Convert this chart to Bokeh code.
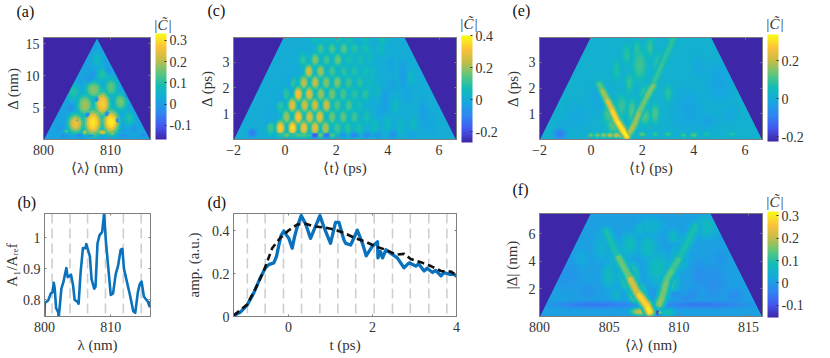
from bokeh.plotting import figure
from bokeh.layouts import row, column
from bokeh.models import (ColorBar, FixedTicker, LinearAxis, LinearColorMapper, Title,
                          Range1d, Span, ColumnDataSource)
from bokeh.embed import file_html
from bokeh.resources import INLINE
import numpy as np

# ---------- values ----------
b_lam = [800.0,800.05,800.55,800.95,801.2,801.4,801.55,801.75,802.05,802.15,802.55,802.85,803.1,803.3,803.5,803.75,804.0,804.3,804.55,804.95,805.15,805.45,805.8,806.2,806.3,806.55,806.85,807.1,807.5,807.7,808.0,808.3,808.7,809.0,809.25,809.6,810.0,810.35,810.75,811.1,811.5,811.75,812.0,812.4,812.9,813.4,813.7,814.1,814.4,814.65,815.0,815.4,815.6,815.85,816.0]
b_amp = [.748,.79,.798,.821,.824,.855,.836,.774,.762,.745,.836,.857,.883,.902,.873,.876,.881,.849,.80,.795,.788,.888,.966,.966,.979,.961,.94,.867,.836,.842,.981,1.007,1.018,1.077,.992,.909,.816,.821,.883,.909,.961,.964,.899,.862,.816,.764,.759,.826,.852,.859,.811,.80,.795,.78,.795]
b_marks = [801.15,803.85,806.5,809.2,811.9,814.6]

d_t = [-1.305,-1.146,-.986,-.827,-.668,-.549,-.469,-.35,-.286,-.23,-.175,-.111,-.048,.008,.088,.143,.207,.302,.406,.525,.605,.748,.843,1.0,1.12,1.2,1.32,1.36,1.48,1.64,1.76,1.85,1.99,2.12,2.13,2.19,2.24,2.32,2.43,2.59,2.75,2.87,3.03,3.1,3.23,3.3,3.43,3.5,3.63,3.7,3.83,3.95,4.0]
d_amp = [.005,.02,.053,.11,.182,.227,.242,.25,.28,.333,.379,.398,.379,.364,.318,.371,.417,.47,.432,.364,.402,.47,.417,.341,.439,.439,.356,.341,.333,.402,.341,.283,.326,.348,.273,.303,.273,.311,.295,.273,.227,.25,.235,.245,.212,.225,.205,.215,.189,.205,.197,.197,.186]
d_fit_t = [-1.305,-.986,-.788,-.589,-.39,-.19,.008,.207,.406,.605,.85,1.1,1.36,1.6,1.84,2.08,2.32,2.56,2.75,2.91,3.19,3.39,3.63,3.87,4.0]
d_fit_amp = [.005,.056,.129,.212,.318,.368,.402,.429,.432,.42,.415,.405,.386,.364,.348,.326,.311,.288,.292,.268,.25,.235,.212,.209,.19]
d_marks = [-.98,-.556,-.12,.31,.746,1.175,1.6,2.04,2.476,2.9,3.34,3.77]

a_x = [807.4,810.1,804.8,808.8,806.2,807.5,811.5,810.1,812.8,804.5,808.8,808.8,806.2,803.4,810.3,807.5,805.3,803.0,807.1,812.0,815.0,806.6,809.5,804.0,812.5,808.0,805.0,811.0,808.0,807.4,809.5,806.8,802.5,813.5]
a_y = [2.65,2.75,2.5,5.6,5.4,7.8,5.9,8.2,3.3,7.4,10.2,1.15,1.15,1.3,.95,1.05,.65,.55,.6,.6,.65,3.9,4.0,5.0,7.0,12.5,3.0,3.0,6.3,10.2,10.8,9.5,1.8,1.8]
a_w = [2.2,2.1,2.0,2.0,2.0,2.2,1.7,1.7,1.4,1.7,1.5,1.2,.7,.6,.6,.5,1.0,.9,.8,.9,.7,.8,.8,.8,.8,1.2,.6,.6,.8,.7,.7,.8,.8,.8]
a_h = [3.5,3.2,2.6,3.3,2.9,2.4,2.4,2.6,2.0,2.4,2.0,.7,.7,.5,.6,.5,.4,.3,.3,.3,.4,1.0,1.0,1.0,1.0,2.0,1.0,1.0,1.0,1.0,1.0,1.2,.8,.8]
a_v = [.31,.32,.25,.28,.19,.17,.16,.14,.10,.10,.10,.24,.21,.15,.19,.18,-.04,-.04,-.03,-.03,-.05,-.02,-.02,-.02,-.02,.07,-.01,-.01,-.01,-.01,-.01,-.01,-.01,-.01]

c_x = [-.56,-.17,.30,.74,1.17,1.58,2.04,2.45,2.88,
       .06,.52,.96,1.36,1.84,2.27,2.71,3.18,
       -.17,.29,.77,1.17,1.62,2.04,2.49,2.88,
       .06,.52,.95,1.40,1.84,2.27,2.71,3.14,
       .31,.74,1.18,1.61,2.04,2.49,2.92,3.33,
       .93,1.39,1.84,2.3,2.71,3.14,
       .71,1.18,1.62,2.06,2.5,2.94,
       1.39,1.84,2.3,2.71,3.14,3.72,
       1.17,1.62,2.06,2.5,3.14,3.79,
       -.17,.06,.30,.52,.74,.96,1.17,1.39,1.62,1.84,2.27,2.71,3.2,3.6,-1.27,4.2,5.0,3.9,4.6,5.4,
       3.5,4.0,4.5,5.0,3.7,4.3,4.8,3.6,4.2,4.9,3.4,4.1,3.3,5.6,-.6,-.2,.2]
c_y = [.45]*9 + [.875]*8 + [1.33]*8 + [1.76]*8 + [2.21]*8 + [2.64]*6 + [3.09]*6 + [3.51]*6 + [3.87]*6 + [.17]*14 + [.25,.2,.2,1.5,2.5,1.0] + [.5,.6,.5,.6,1.1,1.3,1.7,1.9,2.1,2.4,2.6,2.9,3.2,.6,1.0,1.6,2.3]
c_v = [.12,.33,.36,.30,.28,.22,.12,.10,.08,
       .20,.32,.27,.28,.16,.15,.12,.08,
       .10,.28,.25,.25,.25,.13,.13,.07,
       .10,.31,.27,.20,.17,.13,.10,.10,
       .10,.23,.24,.18,.18,.12,.10,.06,
       .25,.20,.12,.10,.09,.07,
       .10,.18,.12,.16,.08,.08,
       .12,.13,.14,.10,.08,.05,
       .06,.06,.08,.08,.06,.07,
       .10,.16,.10,.14,.14,.10,-.18,.15,-.14,.13,-.05,-.10,-.08,-.06,-.12,-.06,-.03,-.04,-.04,-.04,
       .06,.05,.05,.05,-.03,.05,-.03,.05,-.03,.04,.05,-.03,.06,-.02,-.01,-.01,-.01]
c_w = [.3]*(len(c_v)-17) + [.25]*13 + [.5,.5,.4,.4]
c_h = [.5]*9 + [.5]*8 + [.5]*8 + [.5]*8 + [.48]*8 + [.48]*6 + [.46]*6 + [.44]*6 + [.35]*6 + [.2]*14 + [.3,.3,.3,1.0,1.2,.9] + [.5]*13 + [.9,.9,.9,.9]

e_x = [-1.2,.0,.25,.5,.75,1.0,1.2,2.0,2.5,3.0,3.6,4.0,4.5,5.5,.9,.7,1.2,1.6,2.1,2.5,2.1,1.5,1.9,2.6,-.5,.3,3.8,5.0,4.5,-1.0,1.4,2.3,3.0,1.0,1.8,3.3,4.2,5.4]
e_y = [.2,.17,.17,.17,.17,.17,.17,.2,.2,.2,.17,.17,.2,.2,.55,1.0,1.3,1.1,.9,1.0,1.7,2.2,2.9,2.9,.9,1.6,1.2,2.2,.7,.6,3.3,3.6,1.8,2.7,3.5,.8,2.8,1.0]
e_w = [.45,.2,.2,.25,.25,.25,.25,.25,.2,.25,.2,.25,.2,.25,.5,.4,.4,.3,.4,.3,.35,.3,.5,.3,.8,.8,1.0,1.0,.8,.4,.3,.3,.3,.3,.3,.3,.5,.5]
e_h = [.45,.16,.16,.18,.18,.2,.2,.16,.16,.16,.16,.18,.16,.16,.5,.7,.8,.9,.6,.7,.7,.7,1.1,.8,1.0,1.0,1.5,1.5,.6,.5,.7,.7,.6,.7,.7,.5,.9,.7]
e_v = [-.09,.13,.15,.16,.19,.2,.21,.13,.10,.10,.10,.12,.08,.08,.12,.11,.09,.11,.11,.11,.11,.09,.10,.09,-.01,-.01,-.02,-.02,-.02,-.01,.08,.09,.08,.07,.08,-.01,-.01,-.01]
e_arm_x = [[1.4,1.25,1.0,.8,.6,.4,.33],[1.5,1.7,1.9,2.2,2.45],[2.45,2.8,3.2]]
e_arm_y = [[.12,.35,.75,1.2,1.6,2.0,2.15],[.25,.6,1.1,1.7,2.15],[2.2,3.0,3.9]]
e_arm_v = [[.33,.32,.31,.27,.2,.15,.09],[.17,.19,.15,.13,.17],[.10,.08,.09]]

f_x = [807.2,808.6,809.2,808.5,807.8,809.8,802.0,803.5,812.5,814.0,805.0,811.5,808.0,812.0,804.5,806.5,810.5,803.0,805.5,811.0,813.0,808.4,807.2,809.6,806.0,810.2,804.0,811.7,808.4,806.4,805.6,809.2,810.0,807.0]
f_y = [.35,.3,.3,3.5,5.0,1.6,3.0,1.8,2.5,1.5,3.0,3.0,6.5,6.5,5.0,5.2,1.3,4.2,1.6,1.6,4.2,1.6,6.3,5.8,3.0,5.5,.85,.85,.38,2.9,4.4,2.6,4.2,1.7]
f_w = [1.2,.4,.9,1.4,1.2,.7,1.5,1.2,1.5,1.2,.9,1.0,1.5,1.5,1.0,1.0,.7,.8,.8,.8,.8,.6,.7,.7,.9,.7,5.5,6.0,.5,1.2,1.0,1.2,1.0,1.0]
f_h = [.5,.3,.5,2.0,1.6,.4,2.0,1.0,2.5,1.0,1.6,1.8,1.2,1.4,1.6,1.4,.4,.9,.9,.9,.9,.8,.8,.8,1.3,.8,.45,.45,.5,1.6,1.5,1.6,1.4,1.2]
f_v = [.20,.16,.09,.08,.07,-.02,-.01,-.01,-.02,-.02,.07,-.02,.05,.07,.05,.08,-.03,.03,.05,-.02,-.01,-.01,.06,.07,.08,.05,-.05,-.05,-.15,.17,.11,.14,.11,.24]
f_arm_x = [[807.9,807.7,807.0,806.4,805.55,804.8],[808.6,808.8,809.14,809.6,810.1,811.2]]
f_arm_y = [[.35,.8,1.74,2.93,4.5,6.1],[.9,1.4,2.7,3.5,4.35,6.5]]
f_arm_v = [[.31,.29,.26,.18,.12,.06],[.18,.16,.15,.13,.11,.07]]

parula = ["#3e26a8","#4558f0","#2f87f0","#16a8de","#10bcb8","#5cc67e","#c4bd48","#fcc238","#f9fb15"]
ink = "#333333"; frame_c = "#7f7f7f"; serif = "Liberation Serif"; blue = "#0a72bd"

def ramp():
    idx = np.linspace(0, 8, 256)
    r = []
    rgb = np.array([[int(h[i:i+2], 16) for i in (1, 3, 5)] for h in parula], float)
    for k in idx:
        i = min(int(k), 7); f = k - i
        c = rgb[i]*(1-f) + rgb[i+1]*f
        r.append("#%02x%02x%02x" % tuple(int(round(z)) for z in c))
    return r
PAL = ramp()

def base_fig(W, H, l, r, t, bb, xr, yr, xt, yt, xlabel, ylabel, std, tag, tag_off, tag_st):
    p = figure(width=W, height=H, min_border_left=l, min_border_right=r, min_border_top=t,
               min_border_bottom=bb, toolbar_location=None, output_backend="svg",
               x_range=Range1d(*xr), y_range=Range1d(*yr), x_axis_location=None, y_axis_location=None)
    p.grid.visible = False
    p.outline_line_color = frame_c
    p.outline_line_width = 1
    xa = LinearAxis(ticker=FixedTicker(ticks=xt), axis_label=xlabel)
    ya = LinearAxis(ticker=FixedTicker(ticks=yt), axis_label=ylabel)
    for ax in (xa, ya):
        ax.major_label_text_font = serif
        ax.major_label_text_font_size = "14px"
        ax.major_label_text_color = ink
        ax.axis_label_text_font = serif
        ax.axis_label_text_font_size = "15px"
        ax.axis_label_text_font_style = "normal"
        ax.axis_label_text_color = ink
        ax.major_tick_in = 2; ax.major_tick_out = 0; ax.minor_tick_in = 0; ax.minor_tick_out = 0
        ax.major_tick_line_color = frame_c; ax.axis_line_color = frame_c
    xa.major_label_standoff = 5; xa.axis_label_standoff = std[0]
    ya.major_label_standoff = 4; ya.axis_label_standoff = std[1]
    p.add_layout(xa, "below"); p.add_layout(ya, "left")
    for ticks, side in ((xt, "above"), (yt, "right")):
        ax = LinearAxis(ticker=FixedTicker(ticks=ticks))
        ax.major_label_text_font_size = "0px"; ax.major_label_text_color = None
        ax.major_tick_in = 2; ax.major_tick_out = 0; ax.minor_tick_in = 0; ax.minor_tick_out = 0
        ax.major_tick_line_color = frame_c; ax.axis_line_color = frame_c
        ax.major_label_standoff = 0
        p.add_layout(ax, side)
    return p, (tag, tag_off, tag_st)

def add_tag(p, tag, cbar=None):
    if cbar:
        p.add_layout(Title(text="|C\u0303|", text_font=serif, text_font_style="italic", text_font_size="15px",
                           text_color=ink, align="left", offset=cbar[0], standoff=cbar[1]), "above")
    p.add_layout(Title(text=tag[0], text_font=serif, text_font_size="16px", text_font_style="normal",
                       text_color="#111111", align="left", offset=tag[1], standoff=tag[2]), "above")

def heat(p, vlow, vhigh, base, corners, xs, ys, ws, hs, vs, arms=None, fw=223, cb_off=(5, -2),
         cb_h=106, cb_ticks=(), widths=(11, 8, 5.5, 3)):
    mapper = LinearColorMapper(palette=PAL, low=vlow, high=vhigh)
    (x0, x1), (y0, y1) = corners[0], corners[1]
    p.background_fill_color = PAL[int((base - vlow)/(vhigh - vlow)*255)]
    factors = [(1.6, .12), (1.35, .3), (1.1, .5), (.85, .75), (.6, .92), (.3, 1.0)]
    for sc, fr in factors:
        order = np.argsort(np.abs(np.array(vs) - base))
        src = ColumnDataSource(dict(
            x=[xs[i] for i in order], y=[ys[i] for i in order],
            w=[ws[i]*sc for i in order], h=[hs[i]*sc for i in order],
            v=[base + (vs[i]-base)*fr for i in order]))
        p.ellipse("x", "y", "w", "h", source=src, line_color=None,
                  fill_color={"field": "v", "transform": mapper})
    if arms:
        ax, ay, av = arms
        for wd, fr in zip(widths, (.25, .5, .8, 1.0)):
            sx0, sy0, sx1, sy1, sv = [], [], [], [], []
            for X, Y, V in zip(ax, ay, av):
                for i in range(len(X)-1):
                    sx0.append(X[i]); sy0.append(Y[i]); sx1.append(X[i+1]); sy1.append(Y[i+1])
                    sv.append(base + ((V[i]+V[i+1])/2 - base)*fr)
            src = ColumnDataSource(dict(x0=sx0, y0=sy0, x1=sx1, y1=sy1, v=sv))
            p.segment("x0", "y0", "x1", "y1", source=src, line_width=wd, line_cap="round",
                      line_color={"field": "v", "transform": mapper})
    ytop = p.y_range.end; xl, xr = p.x_range.start, p.x_range.end
    p.patch([xl, xl, x0], [0, ytop, ytop], color=PAL[0], line_color=PAL[0])
    p.patch([xr, xr, x1], [0, ytop, ytop], color=PAL[0], line_color=PAL[0])
    cb = ColorBar(color_mapper=mapper, ticker=FixedTicker(ticks=list(cb_ticks)), width=11, height=cb_h,
                  location=(fw + cb_off[0], cb_off[1]), padding=0, margin=0,
                  major_label_text_font=serif, major_label_text_font_size="14px",
                  major_label_text_color=ink, major_tick_in=2, major_tick_line_color=ink,
                  minor_tick_line_color=None, bar_line_color=None, border_line_color=None,
                  background_fill_color=None, label_standoff=3,
                  major_label_overrides={t: "%g" % t for t in cb_ticks})
    p.add_layout(cb, "center")

def curve_bg(p, marks):
    for m in marks:
        p.add_layout(Span(location=m, dimension="height", line_color="#cfcfcf", line_width=1.6,
                          line_dash="10 5", level="underlay"))

# (a)
pa, t = base_fig(192, 182, 43, 42, 35, 41, (800, 816), (0, 16), [800, 810], [5, 10, 15],
              "⟨λ⟩ (nm)", "Δ (nm)", (2, 2), "(a)", -27, -21)
heat(pa, -.166, .332, .015, [(808, 808), (0, 16)], a_x, a_y, a_w, a_h, a_v, fw=107, cb_off=(5, 0),
     cb_ticks=(-.1, 0, .1, .2, .3))
add_tag(pa, t, (110, 10))

# (b)
pb, t = base_fig(180, 176, 43, 30, 29, 41, (800, 816), (.747, 1.077), [800, 810], [.8, .9, 1],
              "λ (nm)", "A₁/Aᵣₑf", (2, 0), "(b)", -27, 6)
curve_bg(pb, b_marks)
pb.line(b_lam, b_amp, line_color=blue, line_width=2.6, line_join="round")
add_tag(pb, t)

# (c)
pc, t = base_fig(308, 182, 41, 44, 37, 43, (-2, 6.68), (0, 3.95), [-2, 0, 2, 4, 6], [1, 2, 3],
              "⟨t⟩ (ps)", "Δ (ps)", (2, 5), "(c)", -26, -21)
heat(pc, -.267, .4, .005, [(-.07, 4.68), (0, 3.95)], c_x, c_y, c_w, c_h, c_v, cb_off=(5, -3), cb_h=107,
     cb_ticks=(-.2, 0, .2, .4))
add_tag(pc, t, (226, 11))

# (d)
pd, t = base_fig(320, 176, 53, 44, 29, 41, (-1.31, 4), (0, .48), [0, 2, 4], [0, .2, .4],
              "t (ps)", "amp. (a.u.)", (2, 7), "(d)", -26, 6)
curve_bg(pd, d_marks)
pd.line(d_t, d_amp, line_color=blue, line_width=3.3, line_join="round")
pd.line(d_fit_t, d_fit_amp, line_color="#111111", line_width=2.6, line_dash="7 4")
add_tag(pd, t)

# (e)
pe, t = base_fig(330, 182, 39, 68, 37, 42, (-2, 6.68), (0, 3.97), [-2, 0, 2, 4, 6], [1, 2, 3],
              "⟨t⟩ (ps)", "Δ (ps)", (2, 5), "(e)", -27, -21)
heat(pe, -.225, .338, .015, [(-.03, 4.7), (0, 3.97)], e_x, e_y, e_w, e_h, e_v,
     arms=(e_arm_x, e_arm_y, e_arm_v), cb_off=(5, -2), cb_h=107, cb_ticks=(-.2, 0, .2),
     widths=(10, 7.5, 5, 3))
add_tag(pe, t, (226, 11))

# (f)
pf, t = base_fig(330, 176, 39, 68, 31, 42, (800, 816), (0, 7.45), [800, 805, 810, 815], [2, 4, 6],
              "⟨λ⟩ (nm)", "|Δ| (nm)", (2, 6), "(f)", -27, -21)
heat(pf, -.155, .32, .01, [(803.64, 812.3), (0, 7.45)], f_x, f_y, f_w, f_h, f_v,
     arms=(f_arm_x, f_arm_y, f_arm_v), cb_off=(5, -1), cb_h=106, cb_ticks=(-.1, 0, .1, .2, .3),
     widths=(14, 10, 7, 4))
add_tag(pf, t, (226, 8))

page = column(row(pa, pc, pe), row(pb, pd, pf))
open("out.html", "w").write(file_html(page, INLINE))
